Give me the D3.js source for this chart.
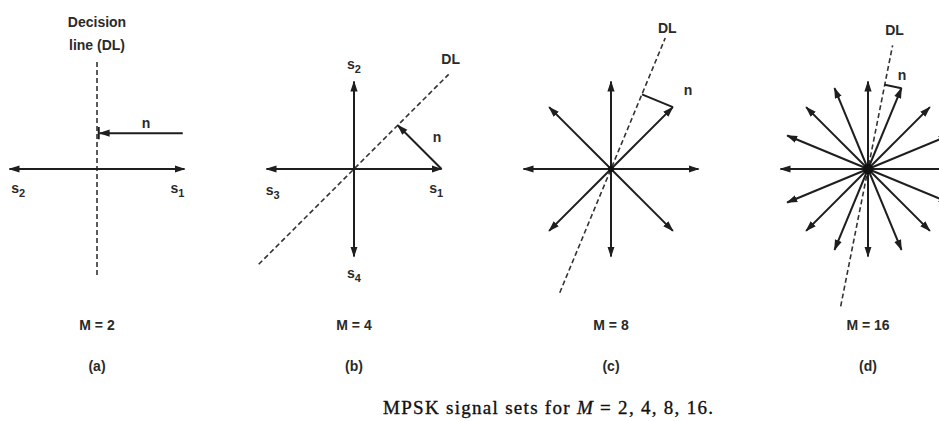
<!DOCTYPE html>
<html>
<head>
<meta charset="utf-8">
<script src="https://cdn.jsdelivr.net/npm/d3@7"></script>
<style>
  body { margin: 0; background: #fff; }
  .lbl { font-family: "Liberation Sans", Arial, sans-serif; font-weight: bold; fill: #2a2a2a; }
  .cap { font-family: "Liberation Serif", "Times New Roman", serif; fill: #111; stroke: #111; stroke-width: 0.35; }
</style>
</head>
<body>
<script>
//svg size
var w = 939, h = 421;

//panel data
var panels = ["a", "b", "c", "d"];
var mValues = [2, 4, 8, 16];
var dlAngles = [90, 45, 67.5, 78.75];            //decision line angle (deg)
var dlTop = [1.24, 1.53, 1.62, 1.44];            //dashed line reach, in radii
var dlBottom = [1.21, 1.54, 1.53, 1.6];
var noiseFrom = [0, 0, 1, 3];                    //signal index the noise starts at
var dotSize = [0, 0, 3, 5];
var signalNames = [["s1", "s2"], ["s1", "s2", "s3", "s4"], [], []];

var svg = d3.select("body")
    .append("svg")
    .attr("width", w)
    .attr("height", h);

//arrow head
svg.append("defs").append("marker")
    .attr("id", "head")
    .attr("viewBox", "0 -4 11 8")
    .attr("refX", 10)
    .attr("refY", 0)
    .attr("markerUnits", "userSpaceOnUse")
    .attr("markerWidth", 11)
    .attr("markerHeight", 8)
    .attr("orient", "auto")
    .append("path")
    .attr("d", "M0,-3.6L11,0L0,3.6Z")
    .attr("fill", "#1e1e1e");

//panel centres
var px = d3.scalePoint().domain(panels).range([97, 868]);
var cy = 169, r = 87.5;

panels.forEach(function(p, k){
    var cx = px(p);
    var M = mValues[k];
    var x = d3.scaleLinear().domain([-1, 1]).range([cx - r, cx + r]);
    var y = d3.scaleLinear().domain([-1, 1]).range([cy + r, cy - r]);
    var g = svg.append("g").attr("class", "panel-" + p);

    //signal points on the circle
    var sig = d3.range(M).map(function(i){
        var a = 2 * Math.PI * i / M;
        return {i: i, a: a, x: Math.cos(a), y: Math.sin(a)};
    });

    //decision line
    var t = dlAngles[k] * Math.PI / 180;
    g.append("line")
        .attr("x1", x(-dlBottom[k] * Math.cos(t)))
        .attr("y1", y(-dlBottom[k] * Math.sin(t)))
        .attr("x2", x(dlTop[k] * Math.cos(t)))
        .attr("y2", y(dlTop[k] * Math.sin(t)))
        .attr("stroke", "#333")
        .attr("stroke-width", 1.6)
        .attr("stroke-dasharray", "5,3");

    //signal vectors
    g.selectAll(".sig")
        .data(sig)
        .enter()
        .append("line")
        .attr("class", "sig")
        .attr("x1", x(0)).attr("y1", y(0))
        .attr("x2", function(d){ return x(d.x); })
        .attr("y2", function(d){ return y(d.y); })
        .attr("stroke", "#1e1e1e")
        .attr("stroke-width", 2)
        .attr("marker-end", "url(#head)");

    if (dotSize[k] > 0) {
        g.append("circle")
            .attr("cx", x(0)).attr("cy", y(0))
            .attr("r", dotSize[k])
            .attr("fill", "#111");
    }

    //noise vector
    var n0, n1;
    if (M === 2) {
        n0 = [0.98, 0.41];
        n1 = [0.0, 0.41];
        //small stop bar on the decision line
        g.append("line")
            .attr("x1", x(0.02)).attr("y1", y(0.48))
            .attr("x2", x(0.02)).attr("y2", y(0.34))
            .attr("stroke", "#1e1e1e")
            .attr("stroke-width", 2);
    } else {
        var s = sig[noiseFrom[k]];
        var proj = s.x * Math.cos(t) + s.y * Math.sin(t);
        n0 = [s.x, s.y];
        n1 = [proj * Math.cos(t), proj * Math.sin(t)];
    }
    g.append("line")
        .attr("x1", x(n0[0])).attr("y1", y(n0[1]))
        .attr("x2", x(n1[0] + (M === 2 ? 0.03 : 0))).attr("y2", y(n1[1]))
        .attr("stroke", "#1e1e1e")
        .attr("stroke-width", 2)
        .attr("marker-end", M <= 4 ? "url(#head)" : null);

    //n label next to noise vector
    var nl = {2: [146, 128], 4: [437, 142], 8: [688, 95], 16: [902, 80]}[M];
    g.append("text").attr("class", "lbl")
        .attr("x", nl[0]).attr("y", nl[1])
        .attr("text-anchor", "middle")
        .attr("font-size", 14)
        .text("n");

    //DL label
    if (M > 2) {
        var tipX = x(dlTop[k] * Math.cos(t)), tipY = y(dlTop[k] * Math.sin(t));
        g.append("text").attr("class", "lbl")
            .attr("x", tipX + 2)
            .attr("y", tipY - (M === 8 ? 5 : 10))
            .attr("text-anchor", "middle")
            .attr("font-size", 14)
            .text("DL");
    }

    //signal labels
    var pos = {
        s1: M === 2 ? [x(0.92), y(-0.27)] : [x(0.94), y(-0.27)],
        s2: M === 2 ? [x(-0.9), y(-0.27)] : [x(0), y(1.14)],
        s3: [x(-0.93), y(-0.3)],
        s4: [x(0), y(-1.24)]
    };
    signalNames[k].forEach(function(nm){
        var tx = g.append("text").attr("class", "lbl")
            .attr("x", pos[nm][0]).attr("y", pos[nm][1])
            .attr("text-anchor", "middle")
            .attr("font-size", 14);
        tx.append("tspan").text("s");
        tx.append("tspan").attr("font-size", 11).attr("dy", 4).text(nm.slice(1));
    });

    //M label and panel letter
    g.append("text").attr("class", "lbl")
        .attr("x", cx).attr("y", 330)
        .attr("text-anchor", "middle")
        .attr("font-size", 14)
        .text("M = " + M);
    g.append("text").attr("class", "lbl")
        .attr("x", cx).attr("y", 371)
        .attr("text-anchor", "middle")
        .attr("font-size", 14)
        .text("(" + p + ")");
});

//decision line caption of panel (a)
svg.append("text").attr("class", "lbl")
    .attr("x", px("a")).attr("y", 27)
    .attr("text-anchor", "middle").attr("font-size", 14)
    .text("Decision");
svg.append("text").attr("class", "lbl")
    .attr("x", px("a")).attr("y", 50)
    .attr("text-anchor", "middle").attr("font-size", 14)
    .text("line (DL)");

//figure caption
var cap = svg.append("text").attr("class", "cap")
    .attr("x", 383).attr("y", 414)
    .attr("font-size", 19)
    .attr("textLength", 330)
    .attr("lengthAdjust", "spacing");
cap.append("tspan").text("MPSK signal sets for ");
cap.append("tspan").attr("font-style", "italic").text("M");
cap.append("tspan").text(" = 2, 4, 8, 16.");
</script>
</body>
</html>
